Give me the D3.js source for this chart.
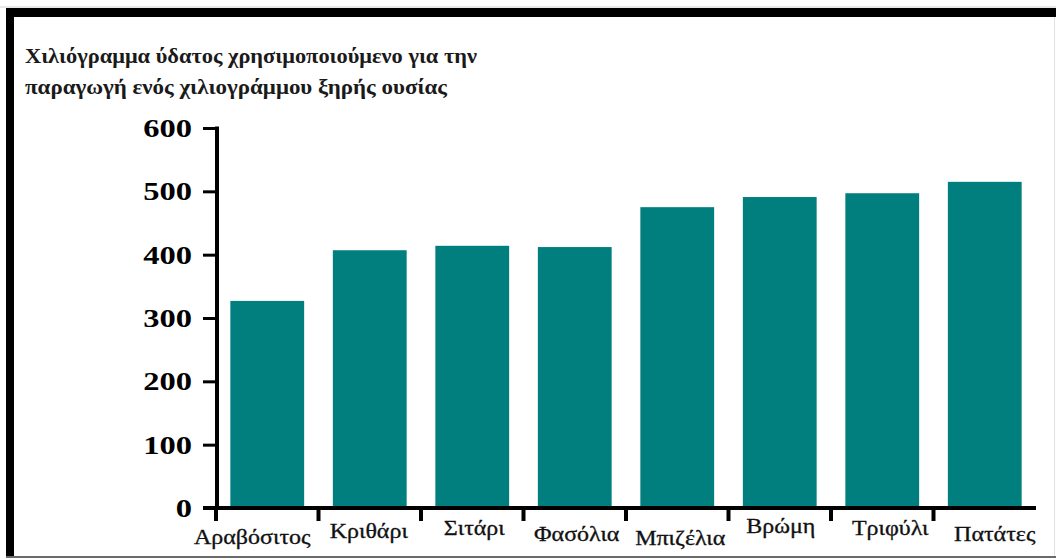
<!DOCTYPE html>
<html>
<head>
<meta charset="utf-8">
<script src="https://cdn.jsdelivr.net/npm/d3@7"></script>
<style>
  html, body { margin: 0; padding: 0; background: #fff; }
  svg { display: block; }
</style>
</head>
<body>
<svg id="chart" width="1056" height="560"></svg>
<script>
// Water needed per kilogram of dry matter, by crop
const crops = ["Αραβόσιτος", "Κριθάρι", "Σιτάρι", "Φασόλια", "Μπιζέλια", "Βρώμη", "Τριφύλι", "Πατάτες"];
const waterKg = [327, 407, 414, 412, 475, 491, 497, 515];
const yTicks = [0, 100, 200, 300, 400, 500, 600];
const titleLines = [
  "Χιλιόγραμμα ύδατος χρησιμοποιούμενο για την",
  "παραγωγή ενός χιλιογράμμου ξηρής ουσίας"
];

// Hand-tuned nudges for the category labels (dx, baseline below axis)
const labelDx = [-15, -1, 2, 2, 3, 1, 8, 10];
const labelDy = [36, 30, 27, 33, 37, 25, 27, 33];

const svg = d3.select("#chart");
const W = 1056, H = 560;
const x0 = 216, x1 = 1036, yBase = 508, yTop = 128;
const serif = "'Liberation Serif', 'Times New Roman', serif";

svg.append("rect").attr("width", W).attr("height", H).attr("fill", "#fff");

// Frame
svg.append("line").attr("x1", 0).attr("x2", W).attr("y1", 7).attr("y2", 7)
  .attr("stroke", "#d0d0d0").attr("stroke-width", 1);
svg.append("rect").attr("x", 6).attr("y", 8).attr("width", W - 6).attr("height", 9).attr("fill", "#000");
svg.append("rect").attr("x", 6).attr("y", 8).attr("width", 8).attr("height", 550).attr("fill", "#000");
svg.append("rect").attr("x", 6).attr("y", 556).attr("width", W - 6).attr("height", 2).attr("fill", "#6a6a6a");
svg.append("line").attr("x1", 1054.5).attr("x2", 1054.5).attr("y1", 17).attr("y2", 556)
  .attr("stroke", "#e2e2e2").attr("stroke-width", 1);

// Title
const titleWidths = [452, 422];
svg.selectAll("text.title").data(titleLines).join("text")
  .attr("class", "title")
  .attr("x", 25)
  .attr("y", (d, i) => 63 + i * 31)
  .attr("textLength", (d, i) => titleWidths[i])
  .attr("lengthAdjust", "spacingAndGlyphs")
  .attr("font-family", serif)
  .attr("font-weight", "bold")
  .attr("font-size", 22)
  .attr("fill", "#1a1a1a")
  .text(d => d);

// Scales
const x = d3.scaleBand().domain(crops).range([x0, x1]).paddingInner(0.28).paddingOuter(0.14);
const y = d3.scaleLinear().domain([0, 600]).range([yBase, yTop]);

// Bars
svg.selectAll("rect.bar").data(crops).join("rect")
  .attr("class", "bar")
  .attr("x", d => x(d))
  .attr("width", x.bandwidth())
  .attr("y", (d, i) => y(waterKg[i]))
  .attr("height", (d, i) => y(0) - y(waterKg[i]))
  .attr("fill", "#017f7e");

// Y axis
const yAxis = d3.axisLeft(y).tickValues(yTicks).tickSize(14).tickSizeOuter(0).tickPadding(11);
const gy = svg.append("g").attr("transform", `translate(${x0 + 1},0)`).call(yAxis);
gy.select(".domain").attr("stroke", "#000").attr("stroke-width", 4)
  .attr("d", `M0,${yTop - 1.5}V${yBase}`);
gy.selectAll(".tick line").attr("stroke", "#000").attr("stroke-width", 3);
gy.selectAll(".tick text")
  .attr("fill", "#000")
  .attr("font-family", serif)
  .attr("font-weight", "bold")
  .attr("font-size", 25)
  .attr("dy", null)
  .attr("dominant-baseline", "central")
  .each(function () {
    const t = d3.select(this);
    const tx = +t.attr("x");
    t.attr("x", 0).attr("transform", `translate(${tx},0) scale(1.3,1)`);
  });

// X axis line and boundary ticks
const step = x.step();
svg.append("line")
  .attr("x1", 203).attr("x2", x1)
  .attr("y1", yBase).attr("y2", yBase)
  .attr("stroke", "#000").attr("stroke-width", 4);
svg.selectAll("line.xtick").data(d3.range(crops.length)).join("line")
  .attr("class", "xtick")
  .attr("x1", i => x0 + i * step).attr("x2", i => x0 + i * step)
  .attr("y1", yBase).attr("y2", yBase + 13)
  .attr("stroke", "#000").attr("stroke-width", 4);

// Category labels
svg.selectAll("text.cat").data(crops).join("text")
  .attr("class", "cat")
  .attr("text-anchor", "middle")
  .attr("transform", (d, i) =>
    `translate(${x(d) + x.bandwidth() / 2 + labelDx[i]},${yBase + labelDy[i]}) scale(1.2,1)`)
  .attr("font-family", serif)
  .attr("font-size", 20)
  .attr("fill", "#111")
  .attr("stroke", "#111")
  .attr("stroke-width", 0.3)
  .text(d => d);
</script>
</body>
</html>
